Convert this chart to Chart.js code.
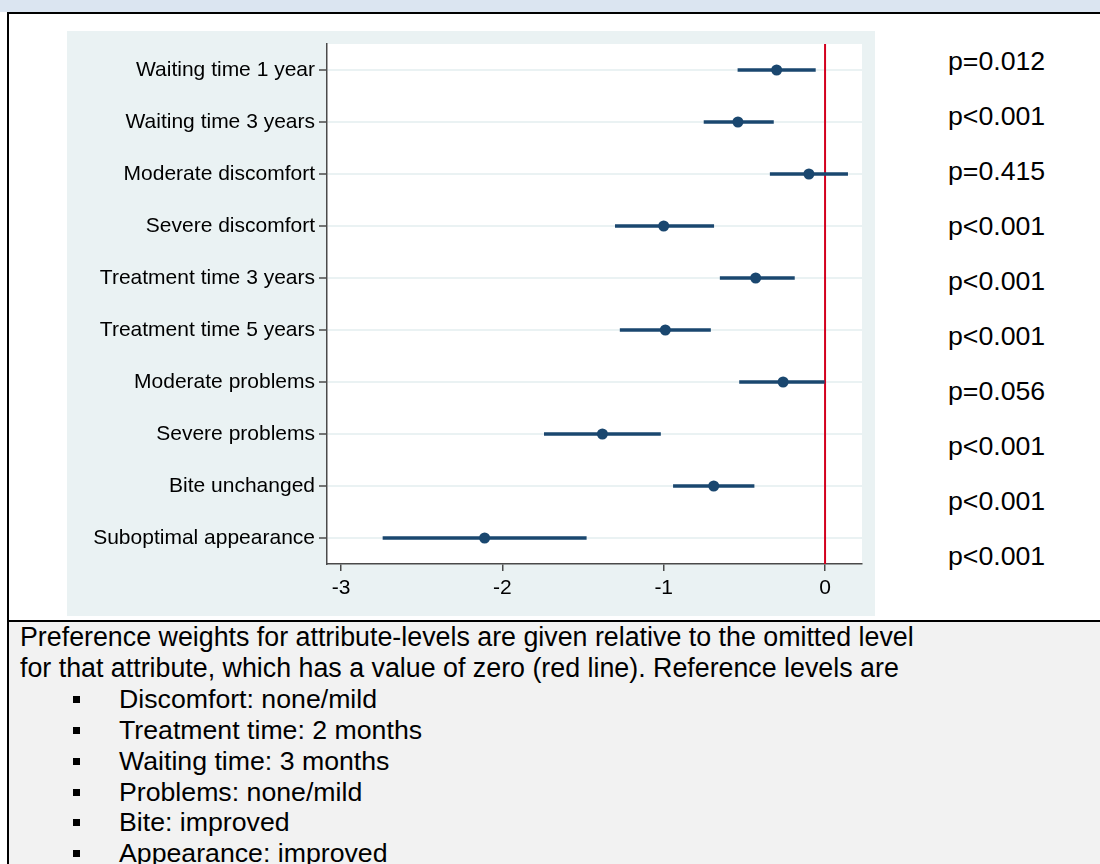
<!DOCTYPE html>
<html>
<head>
<meta charset="utf-8">
<script src="https://cdn.jsdelivr.net/npm/chart.js@4.4.1/dist/chart.umd.min.js"></script>
<style>
  html, body { margin: 0; padding: 0; background: #fff; }
  #page { position: relative; width: 1100px; height: 864px; overflow: hidden;
          font-family: "Liberation Sans", Arial, sans-serif; color: #000; }
  #topband { position: absolute; left: 0; top: 0; width: 1100px; height: 12px; background: #dbe5f1; }
  #topline { position: absolute; left: 7px; top: 12px; width: 1093px; height: 2px; background: #000; }
  #leftline { position: absolute; left: 7px; top: 12px; width: 2px; height: 852px; background: #000; }
  #midline { position: absolute; left: 7px; top: 620px; width: 1093px; height: 2px; background: #000; }
  #panel { position: absolute; left: 67px; top: 31px; width: 808px; height: 585px; background: #eaf2f3; }
  #pvals { position: absolute; left: 948px; top: 34px; font-size: 26.7px; line-height: 55px; white-space: nowrap; }
  #notes { position: absolute; left: 9px; top: 622px; width: 1091px; height: 242px; background: #f2f2f2;
           font-size: 26.7px; line-height: 30.9px; white-space: nowrap; }
  #notes p { margin: 0; padding-left: 11px; font-size: 26.8px; }
  #notes ul { margin: 0; padding: 0; list-style: none; }
  #notes li { position: relative; padding-left: 110px; }
  #notes li::before { content: ""; position: absolute; left: 64px; top: 12px; width: 7px; height: 7px; background: #000; }
</style>
</head>
<body>
<div id="page">
  <div id="topband"></div>
  <div id="panel"><canvas id="chart" width="808" height="585"></canvas></div>
  <div id="pvals"></div>
  <div id="notes">
    <p>Preference weights for attribute-levels are given relative to the omitted level<br>for that attribute, which has a value of zero (red line). Reference levels are</p>
    <ul id="refs"></ul>
  </div>
  <div id="topline"></div>
  <div id="leftline"></div>
  <div id="midline"></div>
</div>
<script>
// Attribute levels, top to bottom
const categories = [
  'Waiting time 1 year',
  'Waiting time 3 years',
  'Moderate discomfort',
  'Severe discomfort',
  'Treatment time 3 years',
  'Treatment time 5 years',
  'Moderate problems',
  'Severe problems',
  'Bite unchanged',
  'Suboptimal appearance'
];
// Preference weights and 95% confidence limits
const estimates = [-0.30, -0.54, -0.10, -1.00, -0.43, -0.99, -0.26, -1.38, -0.69, -2.11];
const ciLower   = [-0.54, -0.75, -0.34, -1.30, -0.65, -1.27, -0.53, -1.74, -0.94, -2.74];
const ciUpper   = [-0.06, -0.32,  0.14, -0.69, -0.19, -0.71,  0.00, -1.02, -0.44, -1.48];
const pValues   = ['p=0.012', 'p<0.001', 'p=0.415', 'p<0.001', 'p<0.001',
                   'p<0.001', 'p=0.056', 'p<0.001', 'p<0.001', 'p<0.001'];
const xTicks = [-3, -2, -1, 0];
const referenceValue = 0;
const referenceLevels = [
  'Discomfort: none/mild',
  'Treatment time: 2 months',
  'Waiting time: 3 months',
  'Problems: none/mild',
  'Bite: improved',
  'Appearance: improved'
];

document.getElementById('pvals').innerHTML = pValues.map(p => '<div>' + p + '</div>').join('');
document.getElementById('refs').innerHTML = referenceLevels.map(r => '<li>' + r + '</li>').join('');

const navy = '#1a476f';
const axisColor = '#4a4a4a';
const fontFamily = '"Liberation Sans", Arial, sans-serif';

// White plot region and the red zero line
const plotDecor = {
  id: 'plotDecor',
  beforeDraw(chart) {
    const { ctx, chartArea: a } = chart;
    ctx.save();
    ctx.fillStyle = '#ffffff';
    ctx.fillRect(a.left, a.top, a.right - a.left, a.bottom - a.top);
    ctx.restore();
  },
  beforeDatasetsDraw(chart) {
    const { ctx, chartArea: a, scales } = chart;
    const x = scales.x.getPixelForValue(referenceValue);
    ctx.save();
    ctx.strokeStyle = '#d3001e';
    ctx.lineWidth = 2;
    ctx.beginPath();
    ctx.moveTo(x, a.top);
    ctx.lineTo(x, a.bottom);
    ctx.stroke();
    ctx.restore();
  }
};

// Fixed axis sizes so the plot region sits at a set place in the panel
function fixBox(size, prop) {
  return function (scale) {
    scale[prop] = size;
    scale.paddingTop = 0;
    scale.paddingBottom = 0;
    scale.paddingLeft = 0;
    scale.paddingRight = 0;
  };
}

new Chart(document.getElementById('chart'), {
  type: 'bar',
  data: {
    labels: categories,
    datasets: [
      {
        type: 'bar',
        indexAxis: 'y',
        data: categories.map((c, i) => [ciLower[i], ciUpper[i]]),
        backgroundColor: navy,
        borderWidth: 0,
        barThickness: 3,
        order: 2
      },
      {
        type: 'line',
        indexAxis: 'y',
        data: estimates,
        showLine: false,
        pointRadius: 5.5,
        pointStyle: 'circle',
        pointBackgroundColor: navy,
        pointBorderColor: navy,
        pointBorderWidth: 0,
        order: 1
      }
    ]
  },
  options: {
    indexAxis: 'y',
    responsive: false,
    animation: false,
    devicePixelRatio: 1,
    layout: { padding: { top: 13, right: 13, left: 0, bottom: 0 } },
    plugins: { legend: { display: false }, tooltip: { enabled: false } },
    scales: {
      x: {
        type: 'linear',
        min: -3.087,
        max: 0.229,
        afterBuildTicks(scale) { scale.ticks = xTicks.map(v => ({ value: v })); },
        afterFit: fixBox(52, 'height'),
        grid: { drawOnChartArea: false, tickLength: 7, tickColor: axisColor, lineWidth: 1.5 },
        border: { color: axisColor, width: 1.5 },
        ticks: { color: '#000', padding: 5, font: { family: fontFamily, size: 21 } }
      },
      y: {
        type: 'category',
        offset: true,
        afterFit: fixBox(260, 'width'),
        grid: { offset: false, color: '#eaf2f3', lineWidth: 2, tickColor: axisColor, tickLength: 8, tickWidth: 1.5 },
        border: { color: axisColor, width: 1.5 },
        ticks: { color: '#000', padding: 4, font: { family: fontFamily, size: 21 } }
      }
    }
  },
  plugins: [plotDecor]
});
</script>
</body>
</html>
